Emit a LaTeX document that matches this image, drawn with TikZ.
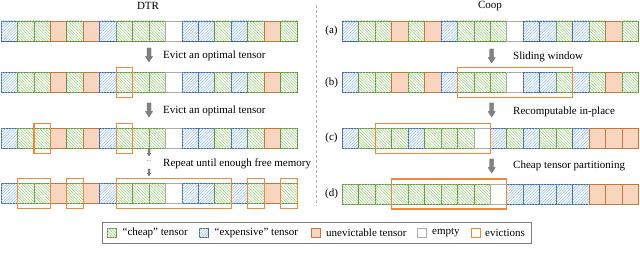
\documentclass[tikz,border=0pt]{standalone}
\usepackage{fontspec}
\setmainfont{Liberation Serif}
\usetikzlibrary{patterns.meta}
\definecolor{gborder}{RGB}{98,150,62}
\definecolor{ghatch}{RGB}{155,202,125}
\definecolor{bborder}{RGB}{62,100,172}
\definecolor{bhatch}{RGB}{145,186,228}
\definecolor{ufill}{RGB}{248,213,190}
\definecolor{uborder}{RGB}{200,118,62}
\definecolor{eborder}{RGB}{172,172,172}
\definecolor{evc}{RGB}{242,136,60}
\definecolor{arrc}{RGB}{130,130,130}
\definecolor{arrd}{RGB}{100,100,100}
\definecolor{sepc}{RGB}{175,175,175}
\definecolor{legc}{RGB}{125,125,125}

\tikzset{
  cellbase/.style={minimum width=16.45pt, minimum height=20pt, inner sep=0pt,
    outer sep=0pt, anchor=north west, line width=0.8pt},
  ghatchfill/.style={pattern={Lines[angle=-45, distance=2.0pt, line width=0.5pt]}, pattern color=ghatch},
  bhatchfill/.style={pattern={Lines[angle=45, distance=2.0pt, line width=0.5pt]}, pattern color=bhatch},
  cellG/.style={cellbase, draw=gborder, fill=white, postaction={ghatchfill}},
  cellB/.style={cellbase, draw=bborder, fill=white, postaction={bhatchfill}},
  cellU/.style={cellbase, draw=uborder, fill=ufill},
  cellE/.style={cellbase, draw=eborder, fill=white},
  cellsel/.style={cell#1},
  evict/.style={draw=evc, line width=1.2pt},
  txt/.style={font=\rmfamily\fontsize{11}{13}\selectfont, inner sep=0pt},
  steptxt/.style={txt, anchor=west},
  legtxt/.style={font=\rmfamily\fontsize{11}{13}\selectfont, inner sep=0pt, anchor=west},
  swatch/.style={minimum width=9pt, minimum height=9pt, inner sep=0pt, outer sep=0pt, line width=0.8pt},
  arrstyle/.style={fill=arrc, draw=arrd, line width=0.3pt},
  darr/.pic={\path[arrstyle] (-2,-7) -- (2,-7) -- (2,1.5) -- (3.6,1.5) -- (0,7) -- (-3.6,1.5) -- (-2,1.5) -- cycle;}
}

\newcommand{\tensorrow}[4]{%
  \foreach \t [count=\i] in {#4} {
    \node[cellsel/.expand once=\t] (#1-\i) at ({#2+(\i-1)*16.45},#3) {};
  }%
}
% eviction box from first cell to last cell
\newcommand{\evbox}[2]{%
  \draw[evict] ([yshift=5pt]#1.north west) rectangle ([yshift=-5pt]#2.south east);%
}

\begin{document}
\begin{tikzpicture}[x=1pt,y=-1pt]
\useasboundingbox (0,0) rectangle (640,267);

% titles
\node[txt] (tdtr) at (148,6) {DTR};
\node[txt] (tcoop) at (490,6) {Coop};

% separator
\coordinate (septop) at (316,5);
\coordinate (sepbot) at (316,206);
\draw[sepc, line width=0.7pt, dash pattern=on 3pt off 2pt] (septop) -- (sepbot);

% DTR rows
\tensorrow{L1}{1}{21}{B,G,G,U,G,U,B,G,G,G,E,B,B,G,B,G,U,G}
\tensorrow{L2}{1}{72.5}{B,G,G,U,G,U,B,G,G,G,E,B,B,G,B,G,U,G}
\tensorrow{L3}{1}{128.3}{B,G,G,U,G,U,B,G,G,G,E,B,B,G,B,G,U,G}
\tensorrow{L4}{1}{183.5}{B,G,G,U,G,U,B,G,G,G,E,B,B,G,B,G,U,G}

% Coop rows
\tensorrow{R1}{342.3}{21}{B,G,G,U,G,U,B,G,G,G,E,B,B,G,B,G,U,G}
\tensorrow{R2}{342.3}{72.5}{B,G,G,U,G,U,B,G,G,G,E,B,B,G,B,G,U,G}
\tensorrow{R3}{342.3}{128.3}{B,G,G,G,B,G,G,G,E,B,G,B,G,G,B,U,U,U}
\tensorrow{R4}{342.3}{184}{G,G,G,G,G,G,G,G,G,E,B,B,B,B,B,U,U,U}

% evictions DTR
\evbox{L2-8}{L2-8}
\evbox{L3-3}{L3-3}
\evbox{L3-8}{L3-8}
\evbox{L4-2}{L4-3}
\evbox{L4-5}{L4-5}
\evbox{L4-8}{L4-14}
\evbox{L4-16}{L4-16}
\evbox{L4-18}{L4-18}
% evictions Coop
\evbox{R2-8}{R2-14}
\evbox{R3-3}{R3-9}
\evbox{R4-4}{R4-10}

% row labels
\node[txt] (la) at (331.5,31) {(a)};
\node[txt] (lb) at (331.5,82.5) {(b)};
\node[txt] (lc) at (331.5,138.3) {(c)};
\node[txt] (ld) at (331.5,194) {(d)};

% DTR steps
\pic at (149,55) {darr};
\node[steptxt] (s1) at (163,56) {Evict an optimal tensor};
\pic at (149,110) {darr};
\node[steptxt] (s2) at (163,110.5) {Evict an optimal tensor};
\pic[scale=0.5] at (149,152.5) {darr};
\node[inner sep=0pt, text=arrd, font=\fontsize{7}{7}\selectfont] (dots) at (149,161.5) {...};
\pic[scale=0.5] at (149,172.5) {darr};
\node[steptxt] (s3) at (163,163.5) {Repeat until enough free memory};

% Coop steps
\pic at (491.7,56) {darr};
\node[steptxt] (c1) at (513,57) {Sliding window};
\pic at (491.7,110) {darr};
\node[steptxt] (c2) at (513,111.5) {Recomputable in-place};
\pic at (491.7,166) {darr};
\node[steptxt] (c3) at (513,166) {Cheap tensor partitioning};

% legend
\node[draw=legc, line width=1pt, minimum width=429pt, minimum height=21pt, anchor=north west, inner sep=0pt] (legend) at (102,222) {};
\node[swatch, draw=gborder, fill=white, postaction={ghatchfill}] (sw1) at (111.5,233) {};
\node[legtxt] (lt1) at (122.5,233) {“cheap” tensor};
\node[swatch, draw=bborder, fill=white, postaction={bhatchfill}] (sw2) at (203.5,233) {};
\node[legtxt] (lt2) at (214.5,233) {“expensive” tensor};
\node[swatch, draw=uborder, fill=ufill] (sw3) at (315.5,233) {};
\node[legtxt] (lt3) at (326,233) {unevictable tensor};
\node[swatch, draw=eborder, fill=white] (sw4) at (421.5,233) {};
\node[legtxt] (lt4) at (432,233) {empty};
\node[swatch, draw=evc, fill=white] (sw5) at (475.5,233) {};
\node[legtxt] (lt5) at (485,233) {evictions};
\end{tikzpicture}
\end{document}
